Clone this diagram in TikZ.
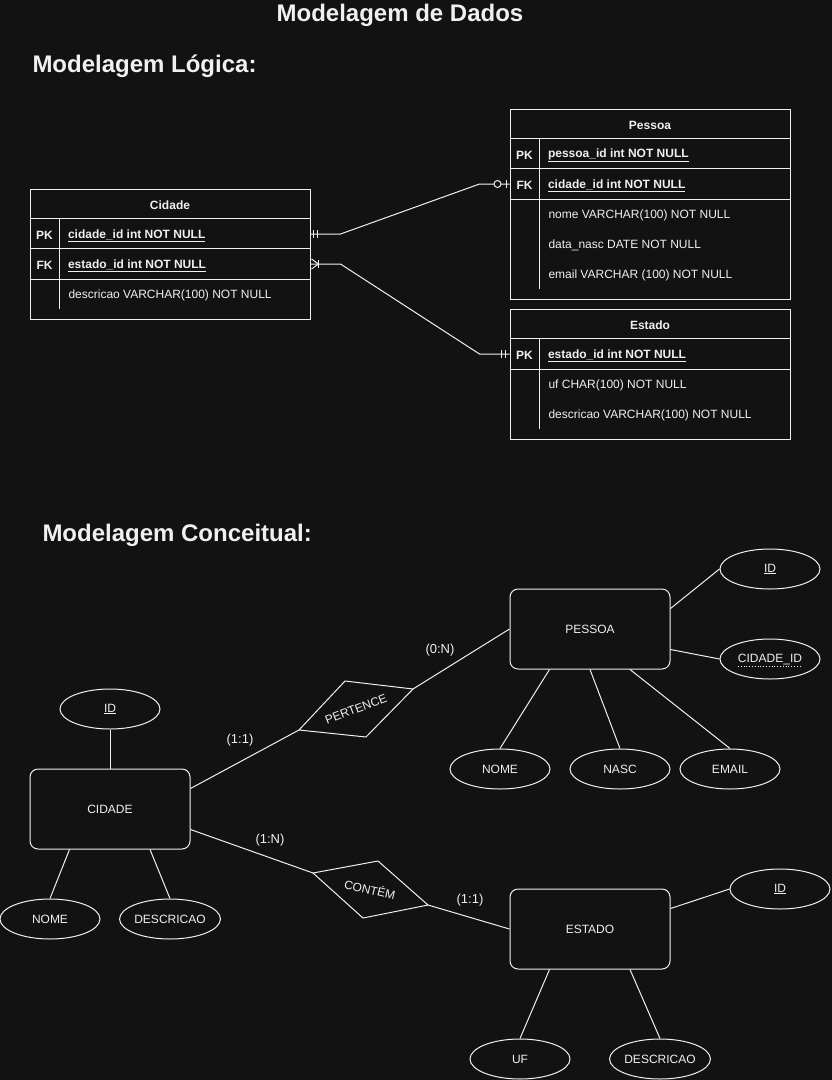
\documentclass[tikz,border=0pt]{standalone}
\usepackage{fontspec}
\setmainfont{Liberation Sans}
\usetikzlibrary{shapes.geometric,calc}
\definecolor{bg}{HTML}{121212}
\definecolor{fg}{HTML}{F0F0F0}
\begin{document}
\begin{tikzpicture}[x=1pt,y=-1pt,line width=1pt,
  every path/.style={draw=fg},
  every node/.style={text=fg},
  tbl/.style={draw=fg,rectangle,minimum width=280pt,inner sep=0pt},
  rowb/.style={draw=none,rectangle,minimum width=280pt,minimum height=30pt,inner sep=0pt},
  hd/.style={font=\bfseries\fontsize{12}{14}\selectfont,inner sep=0pt,yshift=-1pt},
  keyl/.style={font=\bfseries\fontsize{12}{14}\selectfont,inner sep=0pt,yshift=-1.5pt},
  fld/.style={anchor=west,font=\fontsize{12}{14}\selectfont,inner sep=0pt,yshift=-1.5pt},
  fldk/.style={anchor=west,font=\bfseries\fontsize{12}{14}\selectfont,inner sep=0pt,yshift=-1.5pt},
  ent/.style={draw=fg,rectangle,rounded corners=8pt,minimum width=160pt,minimum height=80pt,inner sep=0pt,font=\fontsize{12}{14}\selectfont},
  attr/.style={draw=fg,ellipse,minimum width=100pt,minimum height=40pt,inner sep=0pt,font=\fontsize{12}{14}\selectfont},
  card/.style={font=\fontsize{13}{15}\selectfont,inner sep=0pt},
  rel/.style={font=\fontsize{12}{14}\selectfont,inner sep=0pt},
  ttl/.style={font=\bfseries\fontsize{24}{28}\selectfont,inner sep=0pt}
]
\fill[bg,draw=none] (0,0) rectangle (832,1080);
\path[use as bounding box,draw=none] (0,0) rectangle (832,1080);

% titles
\node[ttl] (title) at (400,15) {Modelagem de Dados};
\node[ttl,anchor=west] (hlog) at (32,66) {Modelagem Lógica:};
\node[ttl,anchor=west] (hcon) at (42,535) {Modelagem Conceitual:};

% ---------- Cidade table
\node[tbl,minimum height=130pt] (cidT) at (170,254) {};
\node[hd] (cidH) at (170,204) {Cidade};
\node[rowb] (cidPK) at (170,234) {};
\node[rowb] (cidFK) at (170,264) {};
\draw (cidPK.north west) -- (cidPK.north east);
\draw (cidFK.north west) -- (cidFK.north east);
\draw (cidFK.south west) -- (cidFK.south east);
\draw ($(cidPK.north west)+(30,0)$) -- ++(0,90);
\node[keyl] (cidPKk) at ($(cidPK.west)+(15,0)$) {PK};
\node[fldk] (cidPKf) at ($(cidPK.west)+(38,0)$) {\underline{cidade\_id int NOT NULL}};
\node[keyl] (cidFKk) at ($(cidFK.west)+(15,0)$) {FK};
\node[fldk] (cidFKf) at ($(cidFK.west)+(38,0)$) {\underline{estado\_id int NOT NULL}};
\node[fld] (cidD) at (68,294) {descricao VARCHAR(100) NOT NULL};

% ---------- Pessoa table
\node[tbl,minimum height=190pt] (pesT) at (650,204) {};
\node[hd] (pesH) at (650,124) {Pessoa};
\node[rowb] (pesPK) at (650,154) {};
\node[rowb] (pesFK) at (650,184) {};
\draw (pesPK.north west) -- (pesPK.north east);
\draw (pesFK.north west) -- (pesFK.north east);
\draw (pesFK.south west) -- (pesFK.south east);
\draw ($(pesPK.north west)+(30,0)$) -- ++(0,150);
\node[keyl] (pesPKk) at ($(pesPK.west)+(15,0)$) {PK};
\node[fldk] (pesPKf) at ($(pesPK.west)+(38,0)$) {\underline{pessoa\_id int NOT NULL}};
\node[keyl] (pesFKk) at ($(pesFK.west)+(15,0)$) {FK};
\node[fldk] (pesFKf) at ($(pesFK.west)+(38,0)$) {\underline{cidade\_id int NOT NULL}};
\node[fld] (pesN) at (548,214) {nome VARCHAR(100) NOT NULL};
\node[fld] (pesD) at (548,244) {data\_nasc DATE NOT NULL};
\node[fld] (pesE) at (548,274) {email VARCHAR (100) NOT NULL};

% ---------- Estado table
\node[tbl,minimum height=130pt] (estT) at (650,374) {};
\node[hd] (estH) at (650,324) {Estado};
\node[rowb] (estPK) at (650,354) {};
\draw (estPK.north west) -- (estPK.north east);
\draw (estPK.south west) -- (estPK.south east);
\draw ($(estPK.north west)+(30,0)$) -- ++(0,90);
\node[keyl] (estPKk) at ($(estPK.west)+(15,0)$) {PK};
\node[fldk] (estPKf) at ($(estPK.west)+(38,0)$) {\underline{estado\_id int NOT NULL}};
\node[fld] (estU) at (548,384) {uf CHAR(100) NOT NULL};
\node[fld] (estD) at (548,414) {descricao VARCHAR(100) NOT NULL};

% ---------- relations (logical)
\draw (cidPK.east) -- ++(30,0) -- ($(pesFK.west)+(-30,0)$) -- (pesFK.west);
\draw ($(cidPK.east)+(3,-4)$) -- ++(0,8);
\draw ($(cidPK.east)+(7,-4)$) -- ++(0,8);
\draw[fill=bg] ($(pesFK.west)+(-12,0)$) circle (3.5pt);
\draw ($(pesFK.west)+(-3,-4)$) -- ++(0,8);

\draw (cidFK.east) -- ++(30,0) -- ($(estPK.west)+(-30,0)$) -- (estPK.west);
\draw ($(cidFK.east)+(1,-5)$) -- ($(cidFK.east)+(8,0)$) -- ($(cidFK.east)+(1,5)$);
\draw ($(cidFK.east)+(8,-4)$) -- ++(0,8);
\draw ($(estPK.west)+(-8,-4)$) -- ++(0,8);
\draw ($(estPK.west)+(-4,-4)$) -- ++(0,8);

% ---------- conceptual: PESSOA
\node[ent] (pessoa) at (590,629) {PESSOA};
\node[attr] (pid) at (770,569) {\underline{ID}};
\node[attr] (pcid) at (770,659) {CIDADE\_ID};
\draw[dotted,line width=0.8pt] ($(pcid.center)+(-32,7.5)$) -- ++(64,0);
\node[attr] (pnome) at (500,769) {NOME};
\node[attr] (pnasc) at (620,769) {NASC};
\node[attr] (pemail) at (730,769) {EMAIL};
\draw ($(pessoa.north east)+(0,20)$) -- (pid.west);
\draw ($(pessoa.south east)+(0,-20)$) -- (pcid.west);
\draw ($(pessoa.south west)+(40,0)$) -- (pnome.north);
\draw (pessoa.south) -- (pnasc.north);
\draw ($(pessoa.south)+(40,0)$) -- (pemail.north);

% ---------- CIDADE
\node[ent] (cidE) at (110,809) {CIDADE};
\node[attr] (cid) at (110,709) {\underline{ID}};
\node[attr] (cnome) at (50,919) {NOME};
\node[attr] (cdesc) at (170,919) {DESCRICAO};
\draw (cidE.north) -- (cid.south);
\draw ($(cidE.south west)+(40,0)$) -- (cnome.north);
\draw ($(cidE.south)+(40,0)$) -- (cdesc.north);

% ---------- ESTADO
\node[ent] (estE) at (590,929) {ESTADO};
\node[attr] (eid) at (780,889) {\underline{ID}};
\node[attr] (euf) at (520,1059) {UF};
\node[attr] (edesc) at (660,1059) {DESCRICAO};
\draw ($(estE.north east)+(0,20)$) -- (eid.west);
\draw ($(estE.south west)+(40,0)$) -- (euf.north);
\draw ($(estE.south)+(40,0)$) -- (edesc.north);

% ---------- PERTENCE
\coordinate (pt) at (345,681);
\coordinate (pr) at (413,689);
\coordinate (pb) at (366,737);
\coordinate (pl) at (299,730);
\draw (pt) -- (pr) -- (pb) -- (pl) -- cycle;
\node[rel,rotate=21] (pert) at (356,709) {PERTENCE};
\draw ($(cidE.north east)+(0,20)$) -- (pl);
\draw (pr) -- (pessoa.west);

% ---------- CONTEM
\coordinate (ct) at (378,861);
\coordinate (cr) at (428,905);
\coordinate (cb) at (363,918);
\coordinate (cl) at (313,873);
\draw (ct) -- (cr) -- (cb) -- (cl) -- cycle;
\node[rel,rotate=-13] (cont) at (370,889) {CONTÉM};
\draw ($(cidE.south east)+(0,-20)$) -- (cl);
\draw (cr) -- (estE.west);

% ---------- cardinalities
\node[card] (c0n) at (440,650) {(0:N)};
\node[card] (c11a) at (240,740) {(1:1)};
\node[card] (c1n) at (270,840) {(1:N)};
\node[card] (c11b) at (470,900) {(1:1)};
\end{tikzpicture}
\end{document}
